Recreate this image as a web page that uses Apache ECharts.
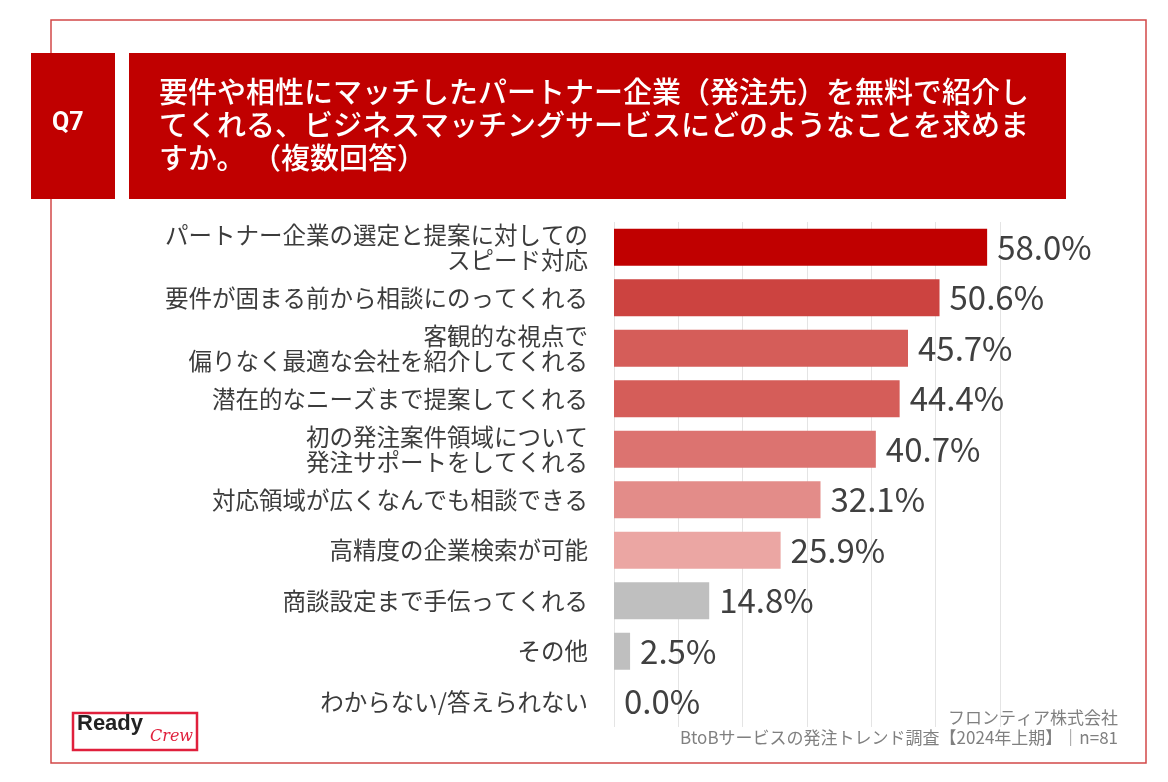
<!DOCTYPE html>
<html>
<head>
<meta charset="utf-8">
<style>
  html, body { margin: 0; padding: 0; background: #fff; }
  #chart-container { width: 1168px; height: 782px; }
</style>
<script src="https://cdn.jsdelivr.net/npm/echarts@6/dist/echarts.min.js"></script>
</head>
<body>
<div id="chart-container"></div>
<script>
// Q7 ビジネスマッチングサービスに求めること（複数回答）

var QUESTION_NO = 'Q7';
var QUESTION_TEXT = '要件や相性にマッチしたパートナー企業（発注先）を無料で紹介し\n' +
    'てくれる、ビジネスマッチングサービスにどのようなことを求めま\n' +
    'すか。 （複数回答）';

var CATEGORIES = [
    'パートナー企業の選定と提案に対しての\nスピード対応',
    '要件が固まる前から相談にのってくれる',
    '客観的な視点で\n偏りなく最適な会社を紹介してくれる',
    '潜在的なニーズまで提案してくれる',
    '初の発注案件領域について\n発注サポートをしてくれる',
    '対応領域が広くなんでも相談できる',
    '高精度の企業検索が可能',
    '商談設定まで手伝ってくれる',
    'その他',
    'わからない/答えられない'
];

var VALUES = [58.0, 50.6, 45.7, 44.4, 40.7, 32.1, 25.9, 14.8, 2.5, 0.0];

var SOURCE_LINES = [
    'フロンティア株式会社',
    'BtoBサービスの発注トレンド調査【2024年上期】｜n=81'
];

// 棒の色（上から順）
var BAR_COLORS = ['#C00000', '#CC4340', '#D55D59', '#D55D59', '#DC7370',
    '#E38C89', '#EBA6A3', '#BFBFBF', '#BFBFBF', '#BFBFBF'];

var FONT = '"Noto Sans CJK JP", "Noto Sans", sans-serif';
var RED = '#C00000';

var myChart = echarts.init(document.getElementById('chart-container'));

var option = {
    animation: false,
    backgroundColor: '#fff',
    grid: {
        left: 614,
        right: 168,
        top: 222,
        bottom: 55
    },
    xAxis: {
        type: 'value',
        min: 0,
        max: 60,
        interval: 10,
        axisLabel: { show: false },
        axisLine: { show: false },
        axisTick: { show: false },
        splitLine: { lineStyle: { color: '#e4e4e4', width: 1 } }
    },
    yAxis: {
        type: 'category',
        inverse: true,
        data: CATEGORIES,
        axisLine: { show: false },
        axisTick: { show: false },
        axisLabel: {
            margin: 26,
            color: '#3c3c3c',
            fontFamily: FONT,
            fontSize: 23.5,
            lineHeight: 25,
            align: 'right'
        }
    },
    series: [{
        type: 'bar',
        barWidth: 37,
        data: VALUES.map(function (v, i) {
            return { value: v, itemStyle: { color: BAR_COLORS[i] } };
        }),
        label: {
            show: true,
            position: 'right',
            distance: 10,
            color: '#404040',
            fontFamily: FONT,
            fontSize: 33,
            formatter: function (p) { return p.value.toFixed(1) + '%'; }
        }
    }],
    graphic: [
        // 外枠
        {
            type: 'rect', z: -10,
            shape: { x: 51, y: 20, width: 1095, height: 743 },
            style: { fill: null, stroke: '#d24848', lineWidth: 1.5 }
        },
        // 設問番号
        {
            type: 'rect',
            shape: { x: 31, y: 53, width: 84, height: 146 },
            style: { fill: RED }
        },
        {
            type: 'text', left: 52, top: 111,
            style: { text: QUESTION_NO, fill: '#fff', font: 'bold 25px Roboto, "Noto Sans", sans-serif' }
        },
        // 設問文
        {
            type: 'rect',
            shape: { x: 129, y: 53, width: 937, height: 146 },
            style: { fill: RED }
        },
        {
            type: 'text', left: 159, top: 75,
            style: {
                text: QUESTION_TEXT, fill: '#fff',
                font: '500 29px ' + FONT, lineHeight: 33
            }
        },
        // 出典
        {
            type: 'text', right: 50, top: 709,
            style: { text: SOURCE_LINES[0], fill: '#808080', font: '17px ' + FONT, align: 'right' }
        },
        {
            type: 'text', right: 50, top: 729,
            style: { text: SOURCE_LINES[1], fill: '#808080', font: '17px ' + FONT, align: 'right' }
        },
        // ロゴ
        {
            type: 'rect',
            shape: { x: 73, y: 713, width: 124, height: 37 },
            style: { fill: '#fff', stroke: '#e0203c', lineWidth: 2.5 }
        },
        {
            type: 'text', left: 77, top: 713,
            style: { text: 'Ready', fill: '#222', font: 'bold 22px "Liberation Sans", Arial, sans-serif' }
        },
        {
            type: 'text', left: 150, top: 729,
            style: { text: 'Crew', fill: '#e0203c', font: 'italic 16px "DejaVu Serif", serif' }
        }
    ]
};

myChart.setOption(option);

window.addEventListener('resize', function () {
    myChart.resize();
});
</script>
</body>
</html>
